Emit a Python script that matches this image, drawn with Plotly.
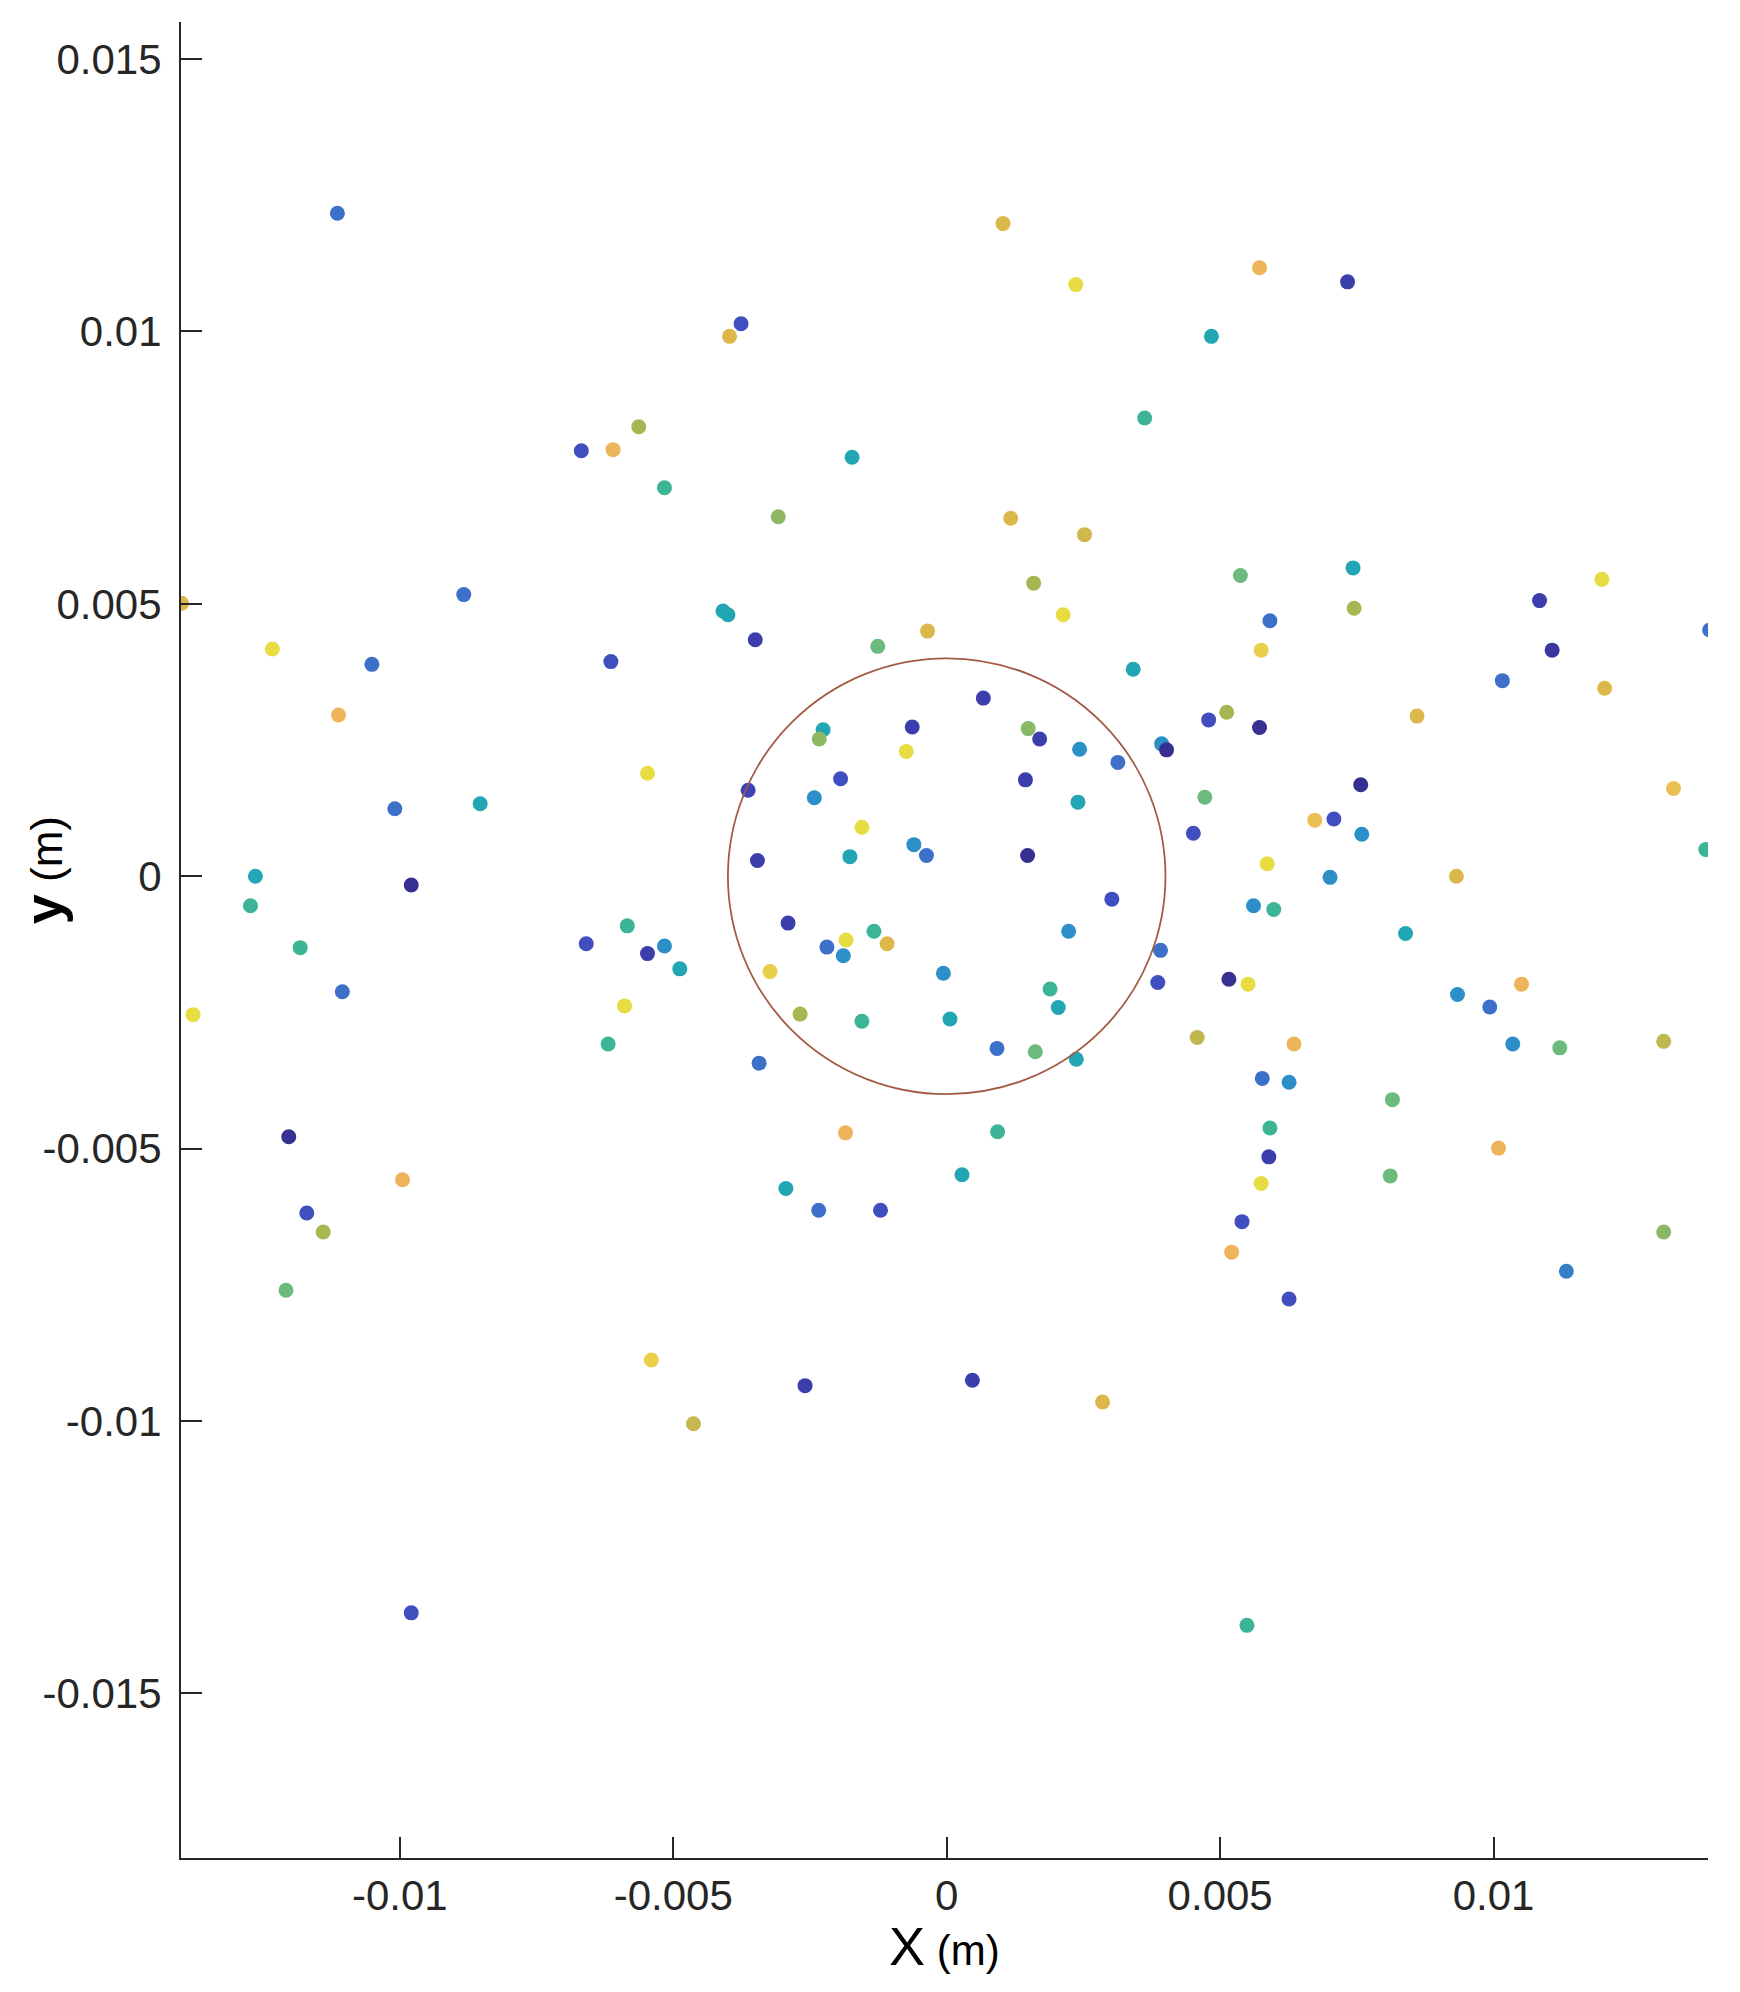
"""Scatter of source positions with the r = 4 mm reference circle."""

import plotly.graph_objects as go

# colour value of each point on a parula-like scale (0 = navy, 1 = yellow)
NAVY, INDIGO, INDIGO_BLUE, BLUE = 0.02, 0.08, 0.14, 0.24
TEAL_BLUE, TEAL, GREEN_TEAL, GREEN = 0.33, 0.42, 0.52, 0.62
OLIVE, GOLD, ORANGE, YELLOW = 0.72, 0.82, 0.88, 0.98

# points outside / around the circle
x_outer = [
    -0.01114, 0.00103, 0.00733, 0.00572, 0.00236, -0.00376, -0.00397, 0.00484,
    -0.00668, -0.00610, -0.00563, -0.00516, -0.00173, 0.00362, -0.00308, 0.00117,
    0.00252, -0.01399, -0.00883, -0.01233, -0.01051, -0.00614, -0.00409, -0.00400,
    -0.00350, -0.00126, -0.00035, 0.00159, 0.00213, 0.00537, 0.00591, 0.00575,
    0.00341, 0.00743, 0.00745, 0.01084, 0.01198, 0.01107, 0.01395, 0.01016,
    0.01203, -0.01112, -0.00547, -0.00853, -0.01009, 0.00860, 0.00512, 0.00479,
    0.00572, 0.01329, 0.00757, 0.00472, 0.00673, 0.00708, 0.00759, 0.00451,
    0.01388, 0.00586, 0.00701, 0.00932, 0.00561, 0.00598, 0.00839, 0.00516,
    0.00551, 0.00934, 0.00993, 0.01051, 0.01035, 0.01121, 0.01311, 0.00458,
    0.00635, 0.00577, 0.00626, 0.00815, 0.00591, 0.00589, 0.00575, 0.00811,
    0.01009, 0.00540, 0.00521, 0.01311, 0.01133, 0.00626, 0.00285, 0.00047,
    -0.00259, -0.00463, -0.00540, -0.00979, 0.00549, -0.00995, -0.01203, -0.01170,
    -0.01140, -0.01208, -0.01378, -0.01264, -0.01273, -0.01182, -0.01105, -0.00979,
    -0.00659, -0.00584, -0.00516, -0.00547, -0.00488, -0.00589, -0.00619, -0.00185,
    0.00093, -0.00294, -0.00234, -0.00121, 0.00028,
]
y_outer = [
    0.01217, 0.01198, 0.01091, 0.01117, 0.01086, 0.01014, 0.00991, 0.00991,
    0.00781, 0.00783, 0.00825, 0.00713, 0.00769, 0.00841, 0.00660, 0.00657,
    0.00627, 0.00501, 0.00517, 0.00417, 0.00389, 0.00394, 0.00487, 0.00480,
    0.00434, 0.00422, 0.00450, 0.00538, 0.00480, 0.00552, 0.00469, 0.00415,
    0.00380, 0.00566, 0.00492, 0.00506, 0.00545, 0.00415, 0.00452, 0.00359,
    0.00345, 0.00296, 0.00189, 0.00133, 0.00124, 0.00294, 0.00301, 0.00287,
    0.00273, 0.00161, 0.00168, 0.00145, 0.00103, 0.00105, 0.00077, 0.00079,
    0.00049, 0.00023, -0.00002, 0.00000, -0.00054, -0.00061, -0.00105, -0.00189,
    -0.00198, -0.00217, -0.00240, -0.00198, -0.00308, -0.00315, -0.00303, -0.00296,
    -0.00308, -0.00371, -0.00378, -0.00410, -0.00462, -0.00515, -0.00564, -0.00550,
    -0.00499, -0.00634, -0.00690, -0.00653, -0.00725, -0.00776, -0.00965, -0.00925,
    -0.00935, -0.01005, -0.00888, -0.01352, -0.01375, -0.00557, -0.00478, -0.00618,
    -0.00653, -0.00760, -0.00254, 0.00000, -0.00054, -0.00131, -0.00212, -0.00016,
    -0.00124, -0.00091, -0.00128, -0.00142, -0.00170, -0.00238, -0.00308, -0.00471,
    -0.00469, -0.00573, -0.00613, -0.00613, -0.00548,
]
c_outer = [
    BLUE, GOLD, INDIGO, ORANGE, YELLOW, INDIGO_BLUE, GOLD, TEAL,
    INDIGO_BLUE, ORANGE, OLIVE, GREEN_TEAL, TEAL, GREEN_TEAL, 0.68, GOLD,
    0.80, GOLD, BLUE, YELLOW, BLUE, INDIGO_BLUE, TEAL, TEAL,
    INDIGO, GREEN, GOLD, OLIVE, YELLOW, GREEN, BLUE, 0.93,
    TEAL, TEAL, OLIVE, INDIGO, YELLOW, 0.05, BLUE, BLUE,
    GOLD, ORANGE, YELLOW, TEAL, BLUE, GOLD, OLIVE, INDIGO_BLUE,
    NAVY, 0.90, NAVY, GREEN, 0.90, INDIGO_BLUE, TEAL_BLUE, INDIGO_BLUE,
    GREEN_TEAL, YELLOW, TEAL_BLUE, GOLD, TEAL_BLUE, GREEN_TEAL, TEAL, NAVY,
    YELLOW, TEAL_BLUE, BLUE, ORANGE, TEAL_BLUE, GREEN, 0.77, 0.77,
    ORANGE, BLUE, TEAL_BLUE, GREEN, GREEN_TEAL, INDIGO, YELLOW, GREEN,
    ORANGE, INDIGO_BLUE, ORANGE, 0.67, 0.28, INDIGO_BLUE, GOLD, INDIGO,
    INDIGO, 0.78, 0.93, INDIGO_BLUE, GREEN_TEAL, ORANGE, NAVY, INDIGO_BLUE,
    OLIVE, GREEN, YELLOW, TEAL, GREEN_TEAL, GREEN_TEAL, BLUE, NAVY,
    INDIGO_BLUE, GREEN_TEAL, TEAL_BLUE, INDIGO, TEAL, YELLOW, GREEN_TEAL, ORANGE,
    GREEN_TEAL, TEAL, BLUE, INDIGO_BLUE, TEAL,
]

# points inside the circle
x_inner = [
    0.00067, -0.00226, -0.00233, -0.00063, 0.00149, 0.00170, 0.00243, 0.00313,
    -0.00074, 0.00393, 0.00402, -0.00194, 0.00144, -0.00363, -0.00242, 0.00240,
    -0.00155, -0.00060, -0.00037, -0.00177, -0.00346, 0.00148, 0.00302, -0.00290,
    -0.00133, -0.00184, -0.00109, -0.00219, -0.00189, 0.00223, 0.00391, 0.00386,
    -0.00323, -0.00006, -0.00268, -0.00155, 0.00006, 0.00189, 0.00204, 0.00092,
    0.00162, 0.00237, -0.00343,
]
y_inner = [
    0.00327, 0.00269, 0.00252, 0.00274, 0.00271, 0.00252, 0.00233, 0.00209,
    0.00229, 0.00243, 0.00232, 0.00179, 0.00177, 0.00158, 0.00144, 0.00136,
    0.00090, 0.00058, 0.00038, 0.00036, 0.00029, 0.00038, -0.00042, -0.00086,
    -0.00101, -0.00117, -0.00124, -0.00130, -0.00146, -0.00101, -0.00136, -0.00195,
    -0.00175, -0.00178, -0.00253, -0.00266, -0.00262, -0.00207, -0.00241, -0.00316,
    -0.00322, -0.00336, -0.00343,
]
c_inner = [
    INDIGO, TEAL, 0.68, INDIGO, 0.67, INDIGO, TEAL_BLUE, BLUE,
    YELLOW, TEAL_BLUE, NAVY, INDIGO_BLUE, INDIGO, 0.10, TEAL_BLUE, TEAL,
    YELLOW, TEAL_BLUE, BLUE, TEAL, INDIGO, NAVY, INDIGO_BLUE, INDIGO,
    GREEN_TEAL, YELLOW, GOLD, BLUE, TEAL_BLUE, TEAL_BLUE, BLUE, INDIGO_BLUE,
    0.93, TEAL_BLUE, OLIVE, GREEN_TEAL, TEAL, GREEN_TEAL, TEAL, BLUE,
    GREEN, TEAL, BLUE,
]

circle_center = (0.0, 0.0)
circle_radius = 0.004

x_ticks = [-0.01, -0.005, 0, 0.005, 0.01]
x_tick_labels = ["-0.01", "-0.005", "0", "0.005", "0.01"]
y_ticks = [-0.015, -0.01, -0.005, 0, 0.005, 0.01, 0.015]
y_tick_labels = ["-0.015", "-0.01", "-0.005", "0", "0.005", "0.01", "0.015"]

# faded parula-like colormap
colorscale = [
    [0.00, "#352a87"],
    [0.10, "#3e43b8"],
    [0.18, "#4458c8"],
    [0.26, "#3a78c8"],
    [0.34, "#2a92c8"],
    [0.43, "#22a8b0"],
    [0.52, "#3cb496"],
    [0.62, "#6cba7c"],
    [0.72, "#a6b652"],
    [0.82, "#dcb84c"],
    [0.88, "#eeb45a"],
    [0.94, "#e9d44a"],
    [1.00, "#e6e23e"],
]

fig = go.Figure()

fig.add_trace(
    go.Scatter(
        x=x_outer + x_inner,
        y=y_outer + y_inner,
        mode="markers",
        marker=dict(
            size=15,
            color=c_outer + c_inner,
            colorscale=colorscale,
            cmin=0,
            cmax=1,
            line=dict(width=0),
        ),
        showlegend=False,
        hoverinfo="skip",
    )
)

cx, cy = circle_center
fig.add_shape(
    type="circle",
    xref="x",
    yref="y",
    x0=cx - circle_radius,
    x1=cx + circle_radius,
    y0=cy - circle_radius,
    y1=cy + circle_radius,
    line=dict(color="#a35a45", width=1.8),
)

axis_style = dict(
    showgrid=False,
    zeroline=False,
    showline=True,
    linecolor="#262626",
    linewidth=2,
    ticks="inside",
    ticklen=21,
    tickwidth=1.5,
    tickcolor="#262626",
    tickfont=dict(family="Liberation Sans", size=42, color="#262626"),
)

fig.update_xaxes(
    range=[-0.01400, 0.01392],
    tickvals=x_ticks,
    ticktext=x_tick_labels,
    ticklabelstandoff=0,
    **axis_style,
)
fig.update_yaxes(
    range=[-0.01802, 0.01568],
    tickvals=y_ticks,
    ticktext=y_tick_labels,
    ticklabelstandoff=9,
    **axis_style,
)

fig.add_annotation(
    text="<span style='font-size:54px'>X</span> (m)",
    xref="paper", yref="paper",
    x=0.5, y=0,
    yanchor="middle",
    yshift=-88,
    showarrow=False,
    font=dict(family="Liberation Sans", size=42, color="#000000"),
)
fig.add_annotation(
    text="<b><span style='font-size:54px'>y</span></b> (m)",
    xref="paper", yref="paper",
    x=0, y=0.538,
    xanchor="center",
    xshift=-138,
    textangle=-90,
    showarrow=False,
    font=dict(family="Liberation Sans", size=44, color="#000000"),
)

# the page body adds an 8 px margin, so the plot area is shifted back by it
fig.update_layout(
    width=1740,
    height=1992,
    autosize=False,
    plot_bgcolor="white",
    paper_bgcolor="white",
    margin=dict(l=173, r=40, t=14, b=142),
)

fig.write_html("out.html")
